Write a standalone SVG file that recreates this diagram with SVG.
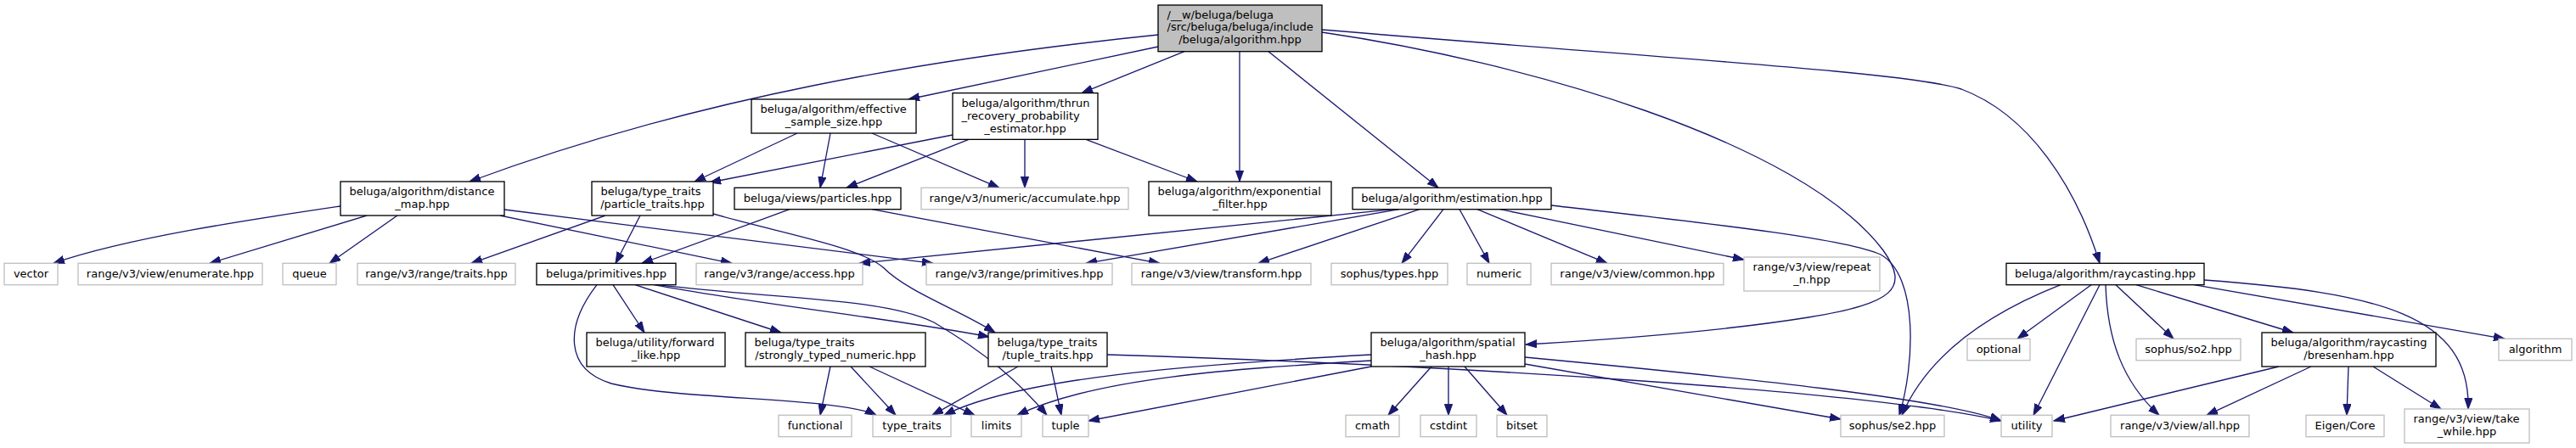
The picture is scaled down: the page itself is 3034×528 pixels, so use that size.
<svg xmlns="http://www.w3.org/2000/svg" width="3034" height="528" viewBox="0 0 3034 528">
<style>
rect{stroke-width:1.33}
.n rect{fill:#fff;stroke:#000}
.x rect{fill:#fff;stroke:#bfbfbf}
.r rect{fill:#bfbfbf;stroke:#000}
text{font-family:"DejaVu Sans","Noto Sans",sans-serif;font-size:13px;fill:#000;text-anchor:middle}
text.s{text-anchor:start}
#edges path{fill:none;stroke:#191970;stroke-width:1.33;marker-end:url(#a)}
</style>
<defs>
<marker id="a" markerWidth="14" markerHeight="10" refX="13" refY="5" orient="auto" markerUnits="userSpaceOnUse"><path d="M0,0.4 L13,5 L0,9.6 Z" fill="#191970" stroke="#191970" stroke-width="1"/></marker>
</defs>
<rect width="3034" height="528" fill="#fff"/>
<g id="edges">
<path d="M1364,41 C1100,68 820,115 553,214"/>
<path d="M1364,55 L1070,117"/>
<path d="M1395,60.7 L1274,109.7"/>
<path d="M1460,60.7 L1460,214"/>
<path d="M1494,60.7 L1694,221.3"/>
<path d="M1557,38 C1790,72 2120,165 2218,295 C2250,340 2230,358 2130,374 C2030,390 1900,400 1797,406"/>
<path d="M1557,35 C1950,68 2250,85 2310,105 C2390,135 2445,220 2473,310.3"/>
<path d="M939,157 L818,214"/>
<path d="M978,157 L966,221.3"/>
<path d="M1027,157 L1177,221.3"/>
<path d="M1122,159 L836,215"/>
<path d="M1141,164.3 L997,221.3"/>
<path d="M1207,164.3 L1207,221.3"/>
<path d="M1279,164.3 L1410,214"/>
<path d="M401,243 C300,258 150,280 63,310.3"/>
<path d="M432,254 L247,310.3"/>
<path d="M468,254 L388,310.3"/>
<path d="M589,254 L862,310.3"/>
<path d="M594,247 L1099,310.3"/>
<path d="M713,254 L555,310.3"/>
<path d="M754,254 L725,310.3"/>
<path d="M840,252 C920,275 1010,290 1040,315 C1070,345 1130,365 1172,392"/>
<path d="M930,246.7 L756,310.3"/>
<path d="M1027,246.7 L1366,310.3"/>
<path d="M1641,246.7 L1012,310.3"/>
<path d="M1648,246.7 L1279,310.3"/>
<path d="M1672,246.7 L1482,310.3"/>
<path d="M1700,246.7 L1651,310.3"/>
<path d="M1719,246.7 L1754,310.3"/>
<path d="M1740,246.7 L1893,310.3"/>
<path d="M1767,246.7 L2054,306"/>
<path d="M1827,242 C2000,262 2170,280 2215,300 C2260,325 2255,430 2237,489.3"/>
<path d="M1615,418 C1400,430 1200,445 1112,489.3"/>
<path d="M1615,425 C1450,435 1290,445 1198,489.3"/>
<path d="M1615,432 L1282,496"/>
<path d="M1686,432 L1635,489.3"/>
<path d="M1706,432 L1706,489.3"/>
<path d="M1725,432 L1775,489.3"/>
<path d="M1796,429 L2168,494"/>
<path d="M1796,421 C2050,445 2290,470 2357,496"/>
<path d="M1199,432 L1098,489.3"/>
<path d="M1238,432 L1250,489.3"/>
<path d="M1304,418 C1700,430 2200,460 2357,496"/>
<path d="M978,432 L966,489.3"/>
<path d="M1002,432 L1055,489.3"/>
<path d="M1024,432 L1148,489.3"/>
<path d="M722,335.7 L759,392"/>
<path d="M748,335.7 L920,392"/>
<path d="M770,335.7 C900,360 1050,375 1165,397"/>
<path d="M776,335.7 C900,352 1040,350 1100,380 C1160,415 1200,450 1233,489.3"/>
<path d="M703,335.7 C665,385 665,435 720,452 C800,472 990,468 1032,489.3"/>
<path d="M2427,335.7 C2340,370 2270,420 2240,489.3"/>
<path d="M2463,335.7 L2376,399.3"/>
<path d="M2473,335.7 L2395,489.3"/>
<path d="M2480,335.7 C2482,400 2500,450 2543,489.3"/>
<path d="M2492,335.7 L2560,399.3"/>
<path d="M2516,335.7 L2701,392"/>
<path d="M2584,335.7 L2950,399.3"/>
<path d="M2596,330 C2800,345 2910,370 2907,482"/>
<path d="M2684,432 L2419,496"/>
<path d="M2722,432 L2599,489.3"/>
<path d="M2766,432 L2764,489.3"/>
<path d="M2795,432 L2875,482"/>
</g>
<g id="root" class="r"><rect x="1364" y="6" width="193" height="54.7"/><text class="s" x="1374.5" y="21.5">/__w/beluga/beluga</text><text class="s" x="1374.5" y="36.2">/src/beluga/beluga/include</text><text x="1460.5" y="50.9">/beluga/algorithm.hpp</text></g>
<g id="ess" class="n"><rect x="885" y="117" width="194" height="40"/><text class="s" x="895.5" y="133.45">beluga/algorithm/effective</text><text x="982" y="148.15">_sample_size.hpp</text></g>
<g id="thrun" class="n"><rect x="1122" y="109.65" width="171" height="54.7"/><text class="s" x="1132.5" y="126.1">beluga/algorithm/thrun</text><text class="s" x="1132.5" y="140.8">_recovery_probability</text><text x="1207.5" y="155.5">_estimator.hpp</text></g>
<g id="dmap" class="n"><rect x="401" y="214" width="193" height="40"/><text class="s" x="411.5" y="230.45">beluga/algorithm/distance</text><text x="497.5" y="245.15">_map.hpp</text></g>
<g id="ptraits" class="n"><rect x="697" y="214" width="143" height="40"/><text class="s" x="707.5" y="230.45">beluga/type_traits</text><text x="768.5" y="245.15">/particle_traits.hpp</text></g>
<g id="particles" class="n"><rect x="865" y="221.3" width="196" height="25.4"/><text x="963" y="237.8">beluga/views/particles.hpp</text></g>
<g id="accum" class="x"><rect x="1085" y="221.3" width="244" height="25.4"/><text x="1207" y="237.8">range/v3/numeric/accumulate.hpp</text></g>
<g id="expf" class="n"><rect x="1353" y="214" width="215" height="40"/><text class="s" x="1363.5" y="230.45">beluga/algorithm/exponential</text><text x="1460.5" y="245.15">_filter.hpp</text></g>
<g id="estim" class="n"><rect x="1593" y="221.3" width="234" height="25.4"/><text x="1710" y="237.8">beluga/algorithm/estimation.hpp</text></g>
<g id="vector" class="x"><rect x="5" y="310.3" width="63" height="25.4"/><text x="36.5" y="326.8">vector</text></g>
<g id="enumerate" class="x"><rect x="92" y="310.3" width="217" height="25.4"/><text x="200.5" y="326.8">range/v3/view/enumerate.hpp</text></g>
<g id="queue" class="x"><rect x="333" y="310.3" width="63" height="25.4"/><text x="364.5" y="326.8">queue</text></g>
<g id="rtraits" class="x"><rect x="421" y="310.3" width="186" height="25.4"/><text x="514" y="326.8">range/v3/range/traits.hpp</text></g>
<g id="prims" class="n"><rect x="632" y="310.3" width="164" height="25.4"/><text x="714" y="326.8">beluga/primitives.hpp</text></g>
<g id="access" class="x"><rect x="820" y="310.3" width="196" height="25.4"/><text x="918" y="326.8">range/v3/range/access.hpp</text></g>
<g id="rprims" class="x"><rect x="1091" y="310.3" width="219" height="25.4"/><text x="1200.5" y="326.8">range/v3/range/primitives.hpp</text></g>
<g id="transform" class="x"><rect x="1333" y="310.3" width="211" height="25.4"/><text x="1438.5" y="326.8">range/v3/view/transform.hpp</text></g>
<g id="stypes" class="x"><rect x="1568" y="310.3" width="137" height="25.4"/><text x="1636.5" y="326.8">sophus/types.hpp</text></g>
<g id="numeric" class="x"><rect x="1728" y="310.3" width="75" height="25.4"/><text x="1765.5" y="326.8">numeric</text></g>
<g id="common" class="x"><rect x="1827" y="310.3" width="203" height="25.4"/><text x="1928.5" y="326.8">range/v3/view/common.hpp</text></g>
<g id="repeatn" class="x"><rect x="2054" y="303" width="160" height="40"/><text class="s" x="2064.5" y="319.45">range/v3/view/repeat</text><text x="2134" y="334.15">_n.hpp</text></g>
<g id="raycast" class="n"><rect x="2363" y="310.3" width="233" height="25.4"/><text x="2479.5" y="326.8">beluga/algorithm/raycasting.hpp</text></g>
<g id="fwdlike" class="n"><rect x="691" y="392" width="163" height="40"/><text class="s" x="701.5" y="408.45">beluga/utility/forward</text><text x="772.5" y="423.15">_like.hpp</text></g>
<g id="stn" class="n"><rect x="878" y="392" width="212" height="40"/><text class="s" x="888.5" y="408.45">beluga/type_traits</text><text x="984" y="423.15">/strongly_typed_numeric.hpp</text></g>
<g id="ttraits" class="n"><rect x="1164" y="392" width="140" height="40"/><text class="s" x="1174.5" y="408.45">beluga/type_traits</text><text x="1234" y="423.15">/tuple_traits.hpp</text></g>
<g id="shash" class="n"><rect x="1615" y="392" width="181" height="40"/><text class="s" x="1625.5" y="408.45">beluga/algorithm/spatial</text><text x="1705.5" y="423.15">_hash.hpp</text></g>
<g id="optional" class="x"><rect x="2317" y="399.3" width="74" height="25.4"/><text x="2354" y="415.8">optional</text></g>
<g id="so2" class="x"><rect x="2516" y="399.3" width="123" height="25.4"/><text x="2577.5" y="415.8">sophus/so2.hpp</text></g>
<g id="bres" class="n"><rect x="2664" y="392" width="205" height="40"/><text class="s" x="2674.5" y="408.45">beluga/algorithm/raycasting</text><text x="2766.5" y="423.15">/bresenham.hpp</text></g>
<g id="algorithm" class="x"><rect x="2943" y="399.3" width="86" height="25.4"/><text x="2986" y="415.8">algorithm</text></g>
<g id="functional" class="x"><rect x="917" y="489.3" width="86" height="25.4"/><text x="960" y="505.8">functional</text></g>
<g id="type_traits" class="x"><rect x="1028" y="489.3" width="92" height="25.4"/><text x="1074" y="505.8">type_traits</text></g>
<g id="limits" class="x"><rect x="1144" y="489.3" width="59" height="25.4"/><text x="1173.5" y="505.8">limits</text></g>
<g id="tuple" class="x"><rect x="1228" y="489.3" width="54" height="25.4"/><text x="1255" y="505.8">tuple</text></g>
<g id="cmath" class="x"><rect x="1585" y="489.3" width="63" height="25.4"/><text x="1616.5" y="505.8">cmath</text></g>
<g id="cstdint" class="x"><rect x="1673" y="489.3" width="66" height="25.4"/><text x="1706" y="505.8">cstdint</text></g>
<g id="bitset" class="x"><rect x="1763" y="489.3" width="59" height="25.4"/><text x="1792.5" y="505.8">bitset</text></g>
<g id="se2" class="x"><rect x="2168" y="489.3" width="122" height="25.4"/><text x="2229" y="505.8">sophus/se2.hpp</text></g>
<g id="utility" class="x"><rect x="2357" y="489.3" width="60" height="25.4"/><text x="2387" y="505.8">utility</text></g>
<g id="all" class="x"><rect x="2486" y="489.3" width="163" height="25.4"/><text x="2567.5" y="505.8">range/v3/view/all.hpp</text></g>
<g id="eigen" class="x"><rect x="2716" y="489.3" width="92" height="25.4"/><text x="2762" y="505.8">Eigen/Core</text></g>
<g id="takewhile" class="x"><rect x="2832" y="482" width="147" height="40"/><text class="s" x="2842.5" y="498.45">range/v3/view/take</text><text x="2905.5" y="513.15">_while.hpp</text></g>
</svg>
